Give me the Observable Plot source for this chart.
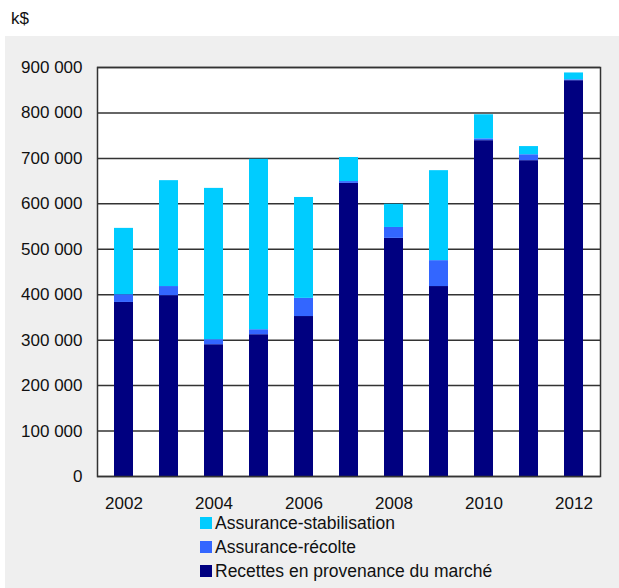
<!DOCTYPE html>
<html><head><meta charset="utf-8">
<script src="https://cdn.jsdelivr.net/npm/d3@7"></script>
<script src="https://cdn.jsdelivr.net/npm/@observablehq/plot@0.6"></script>
<style>
body{margin:0;background:#fff;font-family:"Liberation Sans",Arial,sans-serif;width:619px;height:588px;overflow:hidden;position:relative}
#unit{position:absolute;left:11px;top:9px;font-size:17px;color:#111}
#panel{position:absolute;left:5px;top:36px;width:614px;height:552px;background:#efefef}
#chart{position:absolute;left:0;top:0}
#legend{position:absolute;left:195px;top:475px;font-size:17.5px;color:#111}
.row{height:24px;display:flex;align-items:center}
.sw{width:12px;height:12px;margin-right:3px;flex:none}
</style>
</head><body>
<div id="unit">k$</div>
<div id="panel"><div id="chart"></div><div id="legend"></div></div>
<script>
const years = [2002, 2003, 2004, 2005, 2006, 2007, 2008, 2009, 2010, 2011, 2012];
const marche = [383000, 398000, 290000, 312000, 352000, 645000, 524000, 418000, 739000, 695000, 871000];
const recolte = [17000, 20000, 11000, 11000, 40000, 4000, 24000, 57000, 4000, 13000, 2000];
const stabilisation = [146000, 233000, 333000, 375000, 222000, 53000, 51000, 198000, 53000, 18000, 15000];
const seriesNames = ["Recettes en provenance du marché", "Assurance-récolte", "Assurance-stabilisation"];
const seriesColors = ["#000080", "#3366ff", "#00ccff"];
const legendOrder = ["Assurance-stabilisation", "Assurance-récolte", "Recettes en provenance du marché"];
const xTicks = [2002, 2004, 2006, 2008, 2010, 2012];
const yTicks = [0, 100000, 200000, 300000, 400000, 500000, 600000, 700000, 800000, 900000];

const seriesValues = [marche, recolte, stabilisation];
const data = [];
years.forEach((yr, i) => {
  seriesNames.forEach((s, j) => data.push({year: yr, series: s, value: seriesValues[j][i]}));
});

const fmt = d => d3.format(",")(d).replace(/,/g, "\u00a0");
const font = '"Liberation Sans", Arial, sans-serif';

const chart = Plot.plot({
  width: 614, height: 480,
  marginLeft: 92, marginRight: 19, marginTop: 31, marginBottom: 40,
  style: {background: "transparent", fontSize: "17px", fontFamily: font, color: "#111", overflow: "visible"},
  x: {type: "band", domain: years, paddingInner: 0.58, paddingOuter: 0.29, axis: null},
  y: {domain: [0, 900000], axis: null},
  color: {domain: seriesNames, range: seriesColors},
  marks: [
    Plot.frame({fill: "white"}),
    Plot.gridY(yTicks, {stroke: "#333", strokeOpacity: 1, strokeWidth: 1.5}),
    Plot.barY(data, {x: "year", y: "value", fill: "series", order: seriesNames}),
    Plot.frame({stroke: "#333", strokeWidth: 1.5}),
    Plot.axisX(xTicks, {tickSize: 0, tickPadding: 20, label: null, tickFormat: d => String(d), fontSize: 17}),
    Plot.axisY(yTicks, {tickSize: 0, tickPadding: 15, label: null, tickFormat: fmt, fontSize: 17})
  ]
});
document.getElementById("chart").appendChild(chart);

const colorOf = Object.fromEntries(seriesNames.map((s, i) => [s, seriesColors[i]]));
const lg = document.getElementById("legend");
legendOrder.forEach(s => {
  const r = document.createElement("div"); r.className = "row";
  const sw = document.createElement("span"); sw.className = "sw"; sw.style.background = colorOf[s];
  const t = document.createElement("span"); t.textContent = s;
  r.appendChild(sw); r.appendChild(t); lg.appendChild(r);
});
</script>
</body></html>
